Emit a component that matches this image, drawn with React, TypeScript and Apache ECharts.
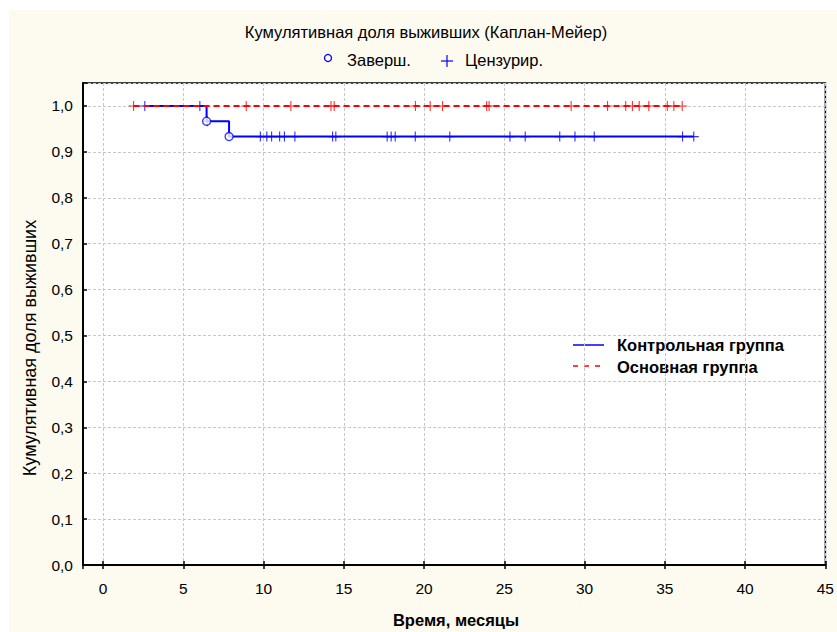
import React, { useEffect, useRef } from "react";
import * as echarts from "echarts";

// Kaplan-Meier step curves [time, survival]
const controlSteps: number[][] = [
  [2.6, 1.0],
  [6.45, 0.9667],
  [7.85, 0.9333],
  [36.8, 0.9333],
];
const mainSteps: number[][] = [
  [1.9, 1.0],
  [36.1, 1.0],
];
// completed (event) points
const controlEvents: number[][] = [
  [6.45, 0.9667],
  [7.85, 0.9333],
];
// censored observations
const controlCensored: number[][] = [
  [2.6, 1.0], [6.03, 1.0], [6.5, 0.9667],
  [9.8, 0.9333], [10.2, 0.9333], [10.5, 0.9333], [11.0, 0.9333], [11.3, 0.9333], [11.95, 0.9333],
  [14.3, 0.9333], [14.5, 0.9333], [17.7, 0.9333], [17.95, 0.9333], [18.2, 0.9333], [19.45, 0.9333],
  [21.6, 0.9333], [25.35, 0.9333], [26.3, 0.9333], [28.45, 0.9333], [29.4, 0.9333], [30.6, 0.9333],
  [36.1, 0.9333], [36.8, 0.9333],
];
const mainCensored: number[][] = [
  [1.9, 1.0], [8.92, 1.0], [11.7, 1.0], [14.2, 1.0], [14.4, 1.0], [19.46, 1.0], [20.38, 1.0],
  [21.15, 1.0], [23.9, 1.0], [24.05, 1.0], [29.16, 1.0], [31.43, 1.0], [32.56, 1.0], [32.98, 1.0],
  [33.4, 1.0], [34.0, 1.0], [35.15, 1.0], [35.56, 1.0], [36.08, 1.0],
];

const seriesNames = ["Контрольная группа", "Основная группа"];
const titleText = "Кумулятивная доля выживших (Каплан-Мейер)";
const markerLegend = ["Заверш.", "Цензурир."];
const xAxisName = "Время, месяцы";
const yAxisName = "Кумулятивная доля выживших";

const BLUE = "#0000ff";
const RED = "#ff0000";
const FONT = "'Liberation Sans', Arial, sans-serif";
const CROSS = "path://M4,0 L5,0 L5,4 L9,4 L9,5 L5,5 L5,9 L4,9 L4,5 L0,5 L0,4 L4,4 Z";

const GL = 83, GT = 83, GW = 746, GH = 482;

export default function App() {
  const ref = useRef<HTMLDivElement>(null);
  useEffect(() => {
    if (!ref.current) return;
    const chart = echarts.init(ref.current, undefined, { renderer: "svg" });
    const fmtX = (v: number) => (Math.abs(v / 5 - Math.round(v / 5)) < 1e-6 ? String(Math.round(v)) : "");
    const fmtY = (v: number) =>
      Math.abs(v * 10 - Math.round(v * 10)) < 1e-6 && v <= 1.0001 ? v.toFixed(1).replace(".", ",") : "";
    chart.setOption({
      animation: false,
      backgroundColor: "transparent",
      textStyle: { fontFamily: FONT },
      grid: {
        left: GL, top: GT, width: GW, height: GH,
        show: true, backgroundColor: "transparent", borderColor: "#000", borderWidth: 1.5,
      },
      xAxis: [
        {
          type: "value", min: -1.25, max: 45, minInterval: 5, maxInterval: 5,
          axisLine: { show: true, onZero: false, lineStyle: { color: "#000", width: 2 } },
          axisTick: { show: true, inside: true, length: 4, lineStyle: { color: "#000", width: 1.5 } },
          axisLabel: { formatter: fmtX, color: "#000", fontSize: 15.5, margin: 15, fontFamily: FONT },
          splitLine: { show: true, lineStyle: { color: "#c8c8c8", type: [3, 2], width: 1 } },
        },
        {
          type: "value", position: "top", min: -1.25, max: 45, minInterval: 5, maxInterval: 5,
          axisLine: { show: false },
          axisTick: { show: true, inside: true, length: 4, lineStyle: { color: "#000", width: 1.5 } },
          axisLabel: { show: false },
          splitLine: { show: false },
        },
      ],
      yAxis: {
        type: "value", min: 0, max: 1.05, minInterval: 0.1, maxInterval: 0.1,
        axisLine: { show: true, onZero: false, lineStyle: { color: "#000", width: 2 } },
        axisTick: { show: true, inside: true, length: 4, lineStyle: { color: "#000", width: 1.5 } },
        axisLabel: { formatter: fmtY, color: "#000", fontSize: 15.5, margin: 10, fontFamily: FONT },
        splitLine: { show: true, lineStyle: { color: "#c8c8c8", type: [3, 2], width: 1 } },
      },
      series: [
        {
          name: seriesNames[0], type: "line", step: "end", data: controlSteps, symbol: "none",
          lineStyle: { color: BLUE, width: 2 }, z: 3,
        },
        {
          name: "cc", type: "scatter", data: controlCensored, symbol: CROSS, symbolSize: 10,
          itemStyle: { color: BLUE }, z: 4,
        },
        {
          name: seriesNames[1], type: "line", data: mainSteps, symbol: "none",
          lineStyle: { color: RED, width: 2, type: [6, 4] }, z: 5,
        },
        {
          name: "mc", type: "scatter", data: mainCensored, symbol: CROSS, symbolSize: 10,
          itemStyle: { color: RED }, z: 6,
        },
        {
          name: "ev", type: "scatter", data: controlEvents, symbol: "circle", symbolSize: 8,
          itemStyle: { color: "#fff", borderColor: BLUE, borderWidth: 1.3 }, z: 7,
        },
      ],
      graphic: [
        { type: "rect", z: -100, silent: true, shape: { x: 9, y: 10, width: 828, height: 622 }, style: { fill: "#fdfaf0" } },
        { type: "rect", z: -99, silent: true, shape: { x: GL, y: GT, width: GW, height: GH }, style: { fill: "#ffffff" } },
        {
          type: "text", x: 426, y: 32,
          style: { text: titleText, fill: "#000", font: `16.5px ${FONT}`, textAlign: "center", textVerticalAlign: "middle" },
        },
        { type: "circle", shape: { cx: 328, cy: 58, r: 3.5 }, style: { fill: "none", stroke: BLUE, lineWidth: 1.3 } },
        {
          type: "text", x: 347, y: 60,
          style: { text: markerLegend[0], fill: "#000", font: `16.5px ${FONT}`, textAlign: "left", textVerticalAlign: "middle" },
        },
        { type: "line", shape: { x1: 441, y1: 61, x2: 453, y2: 61 }, style: { stroke: BLUE, lineWidth: 1.2 } },
        { type: "line", shape: { x1: 447, y1: 55, x2: 447, y2: 67 }, style: { stroke: BLUE, lineWidth: 1.2 } },
        {
          type: "text", x: 465, y: 60,
          style: { text: markerLegend[1], fill: "#000", font: `16.5px ${FONT}`, textAlign: "left", textVerticalAlign: "middle" },
        },
        { type: "line", shape: { x1: 573, y1: 345, x2: 604, y2: 345 }, style: { stroke: BLUE, lineWidth: 1.5 } },
        { type: "line", shape: { x1: 573, y1: 366, x2: 604, y2: 366 }, style: { stroke: RED, lineWidth: 1.5, lineDash: [5, 6] } },
        {
          type: "text", x: 617, y: 345,
          style: { text: seriesNames[0], fill: "#000", font: `bold 16.5px ${FONT}`, textAlign: "left", textVerticalAlign: "middle" },
        },
        {
          type: "text", x: 617, y: 367,
          style: { text: seriesNames[1], fill: "#000", font: `bold 16.5px ${FONT}`, textAlign: "left", textVerticalAlign: "middle" },
        },
        {
          type: "text", x: 456, y: 620,
          style: { text: xAxisName, fill: "#000", font: `bold 16.5px ${FONT}`, textAlign: "center", textVerticalAlign: "middle" },
        },
        {
          type: "text", x: 30, y: 348, rotation: Math.PI / 2,
          style: { text: yAxisName, fill: "#000", font: `18px ${FONT}`, textAlign: "center", textVerticalAlign: "middle" },
        },
      ],
    });
    return () => chart.dispose();
  }, []);
  return (
    <div style={{ position: "absolute", left: 0, top: 0, width: 837, height: 632, background: "#fff" }}>
      <div ref={ref} style={{ width: 837, height: 632 }} />
    </div>
  );
}
